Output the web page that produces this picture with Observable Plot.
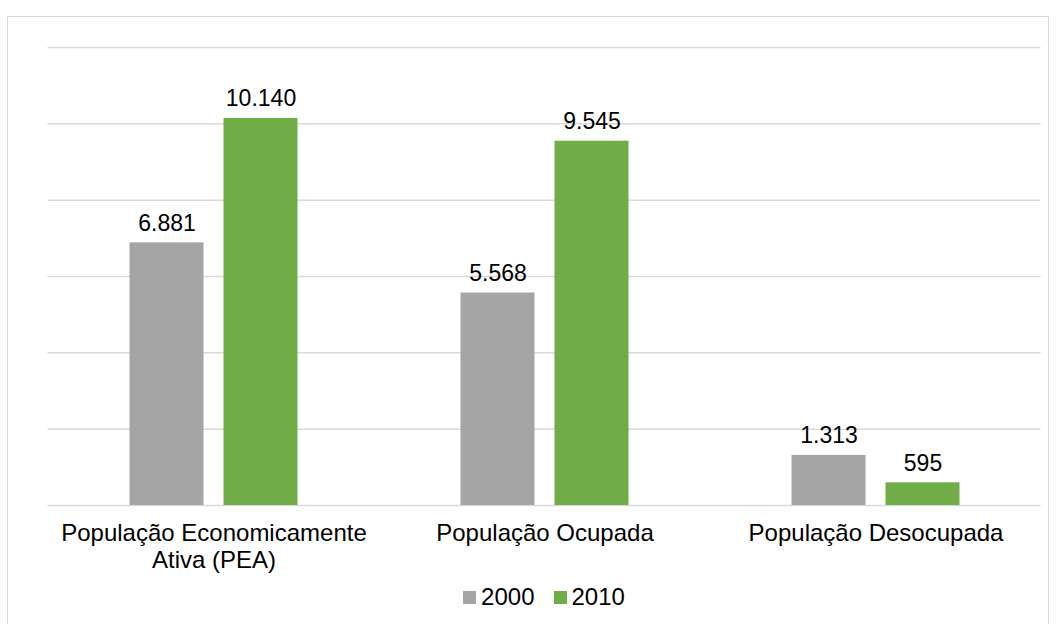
<!DOCTYPE html>
<html>
<head>
<meta charset="utf-8">
<script src="https://cdn.jsdelivr.net/npm/d3@7"></script>
<script src="https://cdn.jsdelivr.net/npm/@observablehq/plot@0.6"></script>
<style>
  html, body { margin: 0; padding: 0; background: #fff; }
  body { width: 1057px; height: 624px; position: relative; overflow: hidden; font-family: "Liberation Sans", Arial, sans-serif; }
  #frame { position: absolute; left: 7px; top: 16px; width: 1042px; height: 620px; border: 1.5px solid #d9d9d9; box-sizing: border-box; }
  #grid, #chart { position: absolute; left: 0; top: 0; }
  #legend { position: absolute; top: 583px; left: 47.5px; width: 993px; display: flex; justify-content: center; align-items: center; font-size: 24px; color: #000; }
  .item { display: flex; align-items: center; margin: 0 9.5px; }
  .sw { width: 13px; height: 13px; margin-right: 5px; }
</style>
</head>
<body>
<div id="frame"></div>
<div id="grid"></div>
<div id="chart"></div>
<div id="legend"></div>
<script>
const categories = ["População Economicamente Ativa (PEA)", "População Ocupada", "População Desocupada"];
const categoryLabels = ["População Economicamente\nAtiva (PEA)", "População Ocupada", "População Desocupada"];
const years = ["2000", "2010"];
const values2000 = [6881, 5568, 1313];
const values2010 = [10140, 9545, 595];
const yTicks = [0, 2000, 4000, 6000, 8000, 10000, 12000];
const colors = ["#a5a5a5", "#70ad47"];

const data = [];
categories.forEach((c, i) => {
  data.push({category: c, year: years[0], value: values2000[i]});
  data.push({category: c, year: years[1], value: values2010[i]});
});

const fmt = d3.formatLocale({decimal: ",", thousands: ".", grouping: [3], currency: ["R$", ""]}).format(",d");

const layout = {
  width: 1057,
  height: 580,
  marginLeft: 47.5,
  marginRight: 16.5,
  marginTop: 47,
  marginBottom: 75,
  style: {fontFamily: "'Liberation Sans', Arial, sans-serif", fontSize: "23px", color: "#000", background: "transparent", overflow: "visible"}
};
const yScale = {domain: [0, 12000], axis: null};

const grid = Plot.plot({
  ...layout,
  y: yScale,
  marks: [
    Plot.ruleY(yTicks, {stroke: "#d9d9d9", strokeWidth: 1.5})
  ]
});
document.getElementById("grid").appendChild(grid);

const chart = Plot.plot({
  ...layout,
  fx: {domain: categories, paddingInner: 0.49, paddingOuter: 0.245, label: null},
  x: {domain: years, paddingInner: 0.2128, paddingOuter: 0, axis: null},
  y: yScale,
  color: {domain: years, range: colors},
  marks: [
    Plot.barY(data, {fx: "category", x: "year", y: "value", fill: "year"}),
    Plot.text(data, {fx: "category", x: "year", y: "value", text: d => fmt(d.value), lineAnchor: "bottom", dy: -12, fontSize: 23, fill: "#000"}),
    Plot.axisFx({anchor: "bottom", tickSize: 0, tickPadding: 16, label: null, fontSize: 24, lineHeight: 1.13, tickFormat: d => categoryLabels[categories.indexOf(d)]})
  ]
});
document.getElementById("chart").appendChild(chart);

const legend = document.getElementById("legend");
years.forEach((y, i) => {
  const item = document.createElement("div");
  item.className = "item";
  const sw = document.createElement("div");
  sw.className = "sw";
  sw.style.background = colors[i];
  const t = document.createElement("span");
  t.textContent = y;
  item.appendChild(sw);
  item.appendChild(t);
  legend.appendChild(item);
});
</script>
</body>
</html>
